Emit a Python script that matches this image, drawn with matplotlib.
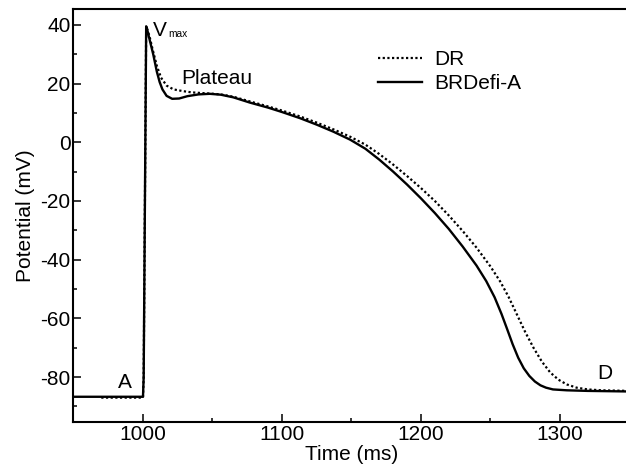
import matplotlib
matplotlib.use("Agg")
import matplotlib.pyplot as plt
from matplotlib.ticker import MultipleLocator

plt.rcParams['font.family'] = ['Liberation Sans', 'DejaVu Sans']
plt.rcParams['axes.unicode_minus'] = False

# BRDefi-A trace (solid)
t_brdefi = [950, 1000, 1000.5, 1002.3, 1003.5, 1005, 1007.4, 1010, 1012, 1014,
            1017, 1021, 1026, 1032, 1040, 1048, 1056, 1065, 1077, 1090,
            1100, 1113, 1125, 1137, 1149, 1160, 1170, 1180, 1190, 1200,
            1210, 1220, 1230, 1240, 1247, 1253, 1258, 1262, 1266, 1270,
            1274, 1278, 1282, 1286, 1290, 1295, 1305, 1320, 1335, 1350]
v_brdefi = [-86.7, -86.7, -80, 39.5, 37.5, 34.5, 29.9, 24, 20.5, 18,
            15.8, 14.8, 14.9, 15.7, 16.3, 16.5, 16.2, 15.3, 13.5, 11.8,
            10.3, 8.2, 6.0, 3.6, 0.9, -2.2, -5.9, -10.0, -14.4, -19.1,
            -24.1, -29.5, -35.5, -42.0, -47.3, -52.8, -58.5, -63.6, -68.8, -73.4,
            -77.0, -79.6, -81.5, -82.8, -83.6, -84.2, -84.5, -84.7, -84.8, -84.9]

# DR trace (dotted)
t_dr = [970, 1000, 1000.5, 1002.3, 1003.5, 1005, 1007, 1010, 1013, 1017,
        1022, 1029, 1035, 1041, 1048, 1056, 1065, 1077, 1090, 1100,
        1113, 1125, 1137, 1149, 1160, 1170, 1180, 1190, 1200, 1210,
        1220, 1230, 1240, 1250, 1257, 1263, 1269, 1275, 1281, 1287,
        1293, 1299, 1305, 1312, 1320, 1330, 1340, 1350]
v_dr = [-87.0, -87.0, -80, 39.5, 38, 35.5, 31.5, 26, 22, 19.3,
        18.0, 17.4, 17.0, 16.8, 16.6, 16.3, 15.5, 13.9, 12.2, 10.8,
        8.8, 6.7, 4.4, 1.9, -0.8, -4.0, -7.6, -11.5, -15.6, -20.0,
        -24.9, -30.2, -35.9, -42.3, -47.4, -52.6, -58.6, -64.6, -70.0, -74.7,
        -78.4, -80.9, -82.5, -83.6, -84.2, -84.5, -84.6, -84.7]

fig = plt.figure(figsize=(6.26, 4.70), dpi=100)
ax = fig.add_axes([0.1174, 0.1021, 0.888, 0.8788])

ax.plot(t_dr, v_dr, color='black', lw=1.6, linestyle=(0, (1, 1.1)), label='DR')
ax.plot(t_brdefi, v_brdefi, color='black', lw=1.7, label='BRDefi-A')

ax.set_xlim(950, 1350)
ax.set_ylim(-95.3, 45.4)
ax.xaxis.set_major_locator(MultipleLocator(100))
ax.xaxis.set_minor_locator(MultipleLocator(50))
ax.yaxis.set_major_locator(MultipleLocator(20))
ax.yaxis.set_minor_locator(MultipleLocator(10))

ax.tick_params(which='both', direction='in', width=1.1, labelsize=15)
ax.tick_params(which='major', length=5.5, pad=2)
ax.tick_params(which='minor', length=3)
for sp in ax.spines.values():
    sp.set_linewidth(1.5)

ax.set_xlabel('Time (ms)', fontsize=15, labelpad=1)
ax.set_ylabel('Potential (mV)', fontsize=15, labelpad=4)

# annotations
ax.text(1007.2, 36.1, 'V', fontsize=15, ha='left', va='baseline')
ax.text(1018, 35.8, 'max', fontsize=7.3, ha='left', va='baseline')
ax.text(1027.3, 19.8, 'Plateau', fontsize=15, ha='left', va='baseline')
ax.text(987, -83.7, 'A', fontsize=15, ha='center', va='baseline')
ax.text(1332, -80.7, 'D', fontsize=15, ha='center', va='baseline')

ax.legend(loc='upper left', bbox_to_anchor=(0.548, 0.90), frameon=False,
          fontsize=15, handlelength=2.1, handletextpad=0.6, labelspacing=0.25,
          borderpad=0, borderaxespad=0)

fig.savefig('out.png', dpi=100)
